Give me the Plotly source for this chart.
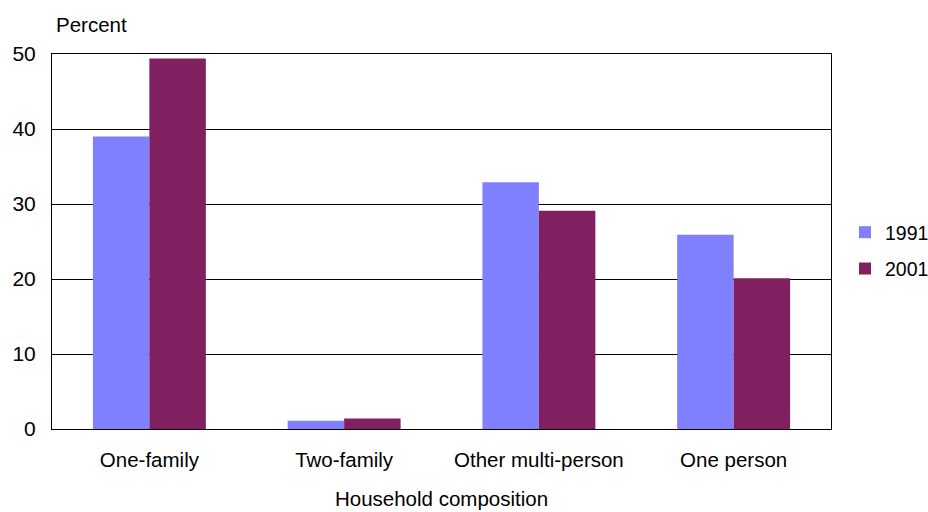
import plotly.graph_objects as go

categories = ["One-family", "Two-family", "Other multi-person", "One person"]
values_1991 = [39.0, 1.1, 32.9, 25.9]
values_2001 = [49.4, 1.4, 29.1, 20.1]
y_ticks = [0, 10, 20, 30, 40, 50]

FONT = "Liberation Sans, Arial, sans-serif"

fig = go.Figure()
fig.add_trace(go.Bar(x=categories, y=values_1991, name="1991",
                     marker=dict(color="#8080FF", line=dict(width=0)),
                     legendgroup="a"))
fig.add_trace(go.Bar(x=categories, y=values_2001, name="2001",
                     marker=dict(color="#802060", line=dict(width=0)),
                     legendgroup="b"))

fig.update_layout(
    width=928, height=512,
    margin=dict(l=52, r=97, t=54, b=83, autoexpand=False),
    paper_bgcolor="white", plot_bgcolor="white",
    barmode="group", bargap=0.42, bargroupgap=0,
    font=dict(family=FONT, size=21, color="black"),
    legend=dict(x=1.018, y=0.476, xanchor="left", yanchor="middle",
                font=dict(size=19.5), tracegroupgap=8,
                traceorder="grouped", itemwidth=30),
    showlegend=True,
    xaxis=dict(
        showline=True, linecolor="black", linewidth=1, mirror=True,
        ticks="", tickfont=dict(size=20.5), ticklabelstandoff=12,
        title=dict(text="Household composition", font=dict(size=20.5), standoff=22),
    ),
    yaxis=dict(
        range=[0, 50], tickvals=y_ticks,
        showgrid=True, gridcolor="black", gridwidth=1,
        showline=True, linecolor="black", linewidth=1, mirror=True,
        zeroline=False, ticks="", ticklabelstandoff=11,
        tickfont=dict(size=21),
    ),
    annotations=[dict(text="Percent", xref="paper", yref="paper",
                      x=0.002, y=1.042, xanchor="left", yanchor="bottom",
                      showarrow=False, font=dict(size=20.5))],
)

fig.write_html("out.html")
